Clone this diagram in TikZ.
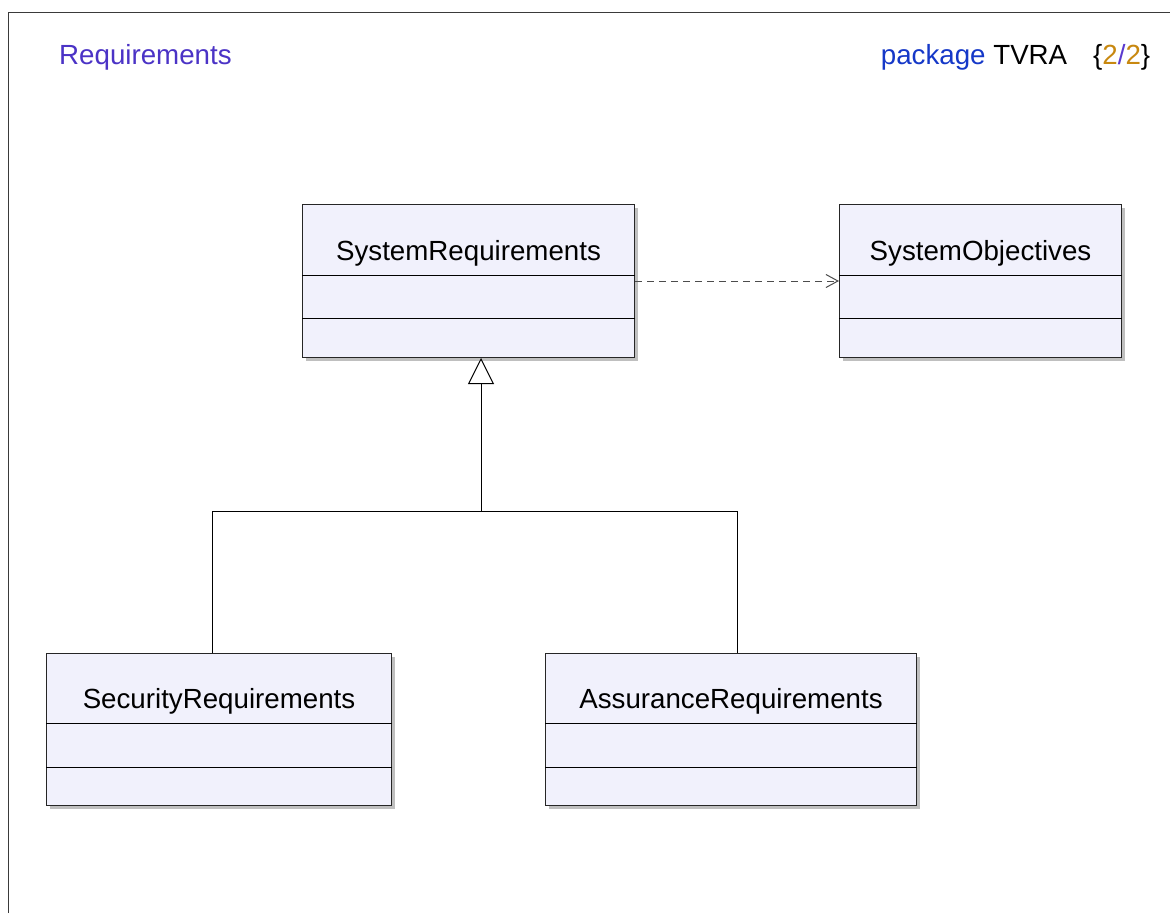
\documentclass[tikz,border=0pt]{standalone}
\usepackage{fontspec}
\setmainfont{Liberation Sans}
\usetikzlibrary{calc,arrows.meta,shadows}
\definecolor{boxfill}{HTML}{F1F1FC}
\definecolor{reqcol}{HTML}{4B33C6}
\definecolor{pkgblue}{HTML}{1538C8}
\definecolor{numcol}{HTML}{C8880F}
\definecolor{slashcol}{HTML}{5A3ACF}
\definecolor{framecol}{HTML}{3A3A3A}
\tikzset{
  cls/.style={draw=black!85, line width=1pt, fill=boxfill, anchor=north west,
    drop shadow={shadow xshift=3pt, shadow yshift=-3pt, fill=black!25, opacity=1}},
  txt/.style={inner sep=0pt, font=\fontsize{27.7}{33}\selectfont},
  sep/.style={line width=1pt, black},
  gen/.style={line width=1pt, black, -{Triangle[open, length=26pt, width=26pt]}},
  dep/.style={line width=1pt, black!70, dash pattern=on 7pt off 5pt, -{Straight Barb[length=12pt, width=13pt, line width=1pt]}},
  link/.style={line width=1pt, black}
}
\begin{document}
\begin{tikzpicture}[x=1pt, y=-1pt]
\useasboundingbox (0,0) rectangle (1170,913);
\fill[white] (0,0) rectangle (1170,913);
% frame
\draw[framecol, line width=1.5pt] (8.5,913) -- (8.5,12.5) -- (1170,12.5);
% header texts
\node[txt, anchor=base west, text=reqcol] (hdrl) at (59,64) {Requirements};
\node[txt, anchor=base west] (hdrr) at (880.7,64) {{\color{pkgblue}package} TVRA\hspace{26pt}\{{\color{numcol}2}{\color{slashcol}/}{\color{numcol}2}\}};
% classes
\node[cls, minimum width=332pt, minimum height=153pt] (sysreq) at (302,204) {};
\node[cls, minimum width=282pt, minimum height=153pt] (sysobj) at (839,204) {};
\node[cls, minimum width=345pt, minimum height=152pt] (secreq) at (46,653) {};
\node[cls, minimum width=371pt, minimum height=152pt] (assreq) at (545,653) {};
% titles
\node[txt, anchor=base] (t1) at ($(sysreq.north)+(0,56)$) {SystemRequirements};
\node[txt, anchor=base] (t2) at ($(sysobj.north)+(0,56)$) {SystemObjectives};
\node[txt, anchor=base] (t3) at ($(secreq.north)+(0,55)$) {SecurityRequirements};
\node[txt, anchor=base] (t4) at ($(assreq.north)+(0,55)$) {AssuranceRequirements};
% compartments
\foreach \n/\a/\b in {sysreq/71/114, sysobj/71/114, secreq/70/114, assreq/70/114}{
  \draw[sep] ($(\n.north west)+(0,\a)$) -- ($(\n.north east)+(0,\a)$);
  \draw[sep] ($(\n.north west)+(0,\b)$) -- ($(\n.north east)+(0,\b)$);
}
% generalization
\coordinate (j) at (481,511);
\coordinate (sa) at ($(secreq.north west)+(166,0)$);
\coordinate (aa) at ($(assreq.north west)+(192,0)$);
\coordinate (ga) at ($(sysreq.south west)+(179,0)$);
\draw[link] (sa) -- (sa |- j) -- (aa |- j) -- (aa);
\draw[gen] (j) -- (ga);
% dependency
\draw[dep] ($(sysreq.north east)+(0,77)$) -- ($(sysobj.north west)+(0,77)$);
\end{tikzpicture}
\end{document}
